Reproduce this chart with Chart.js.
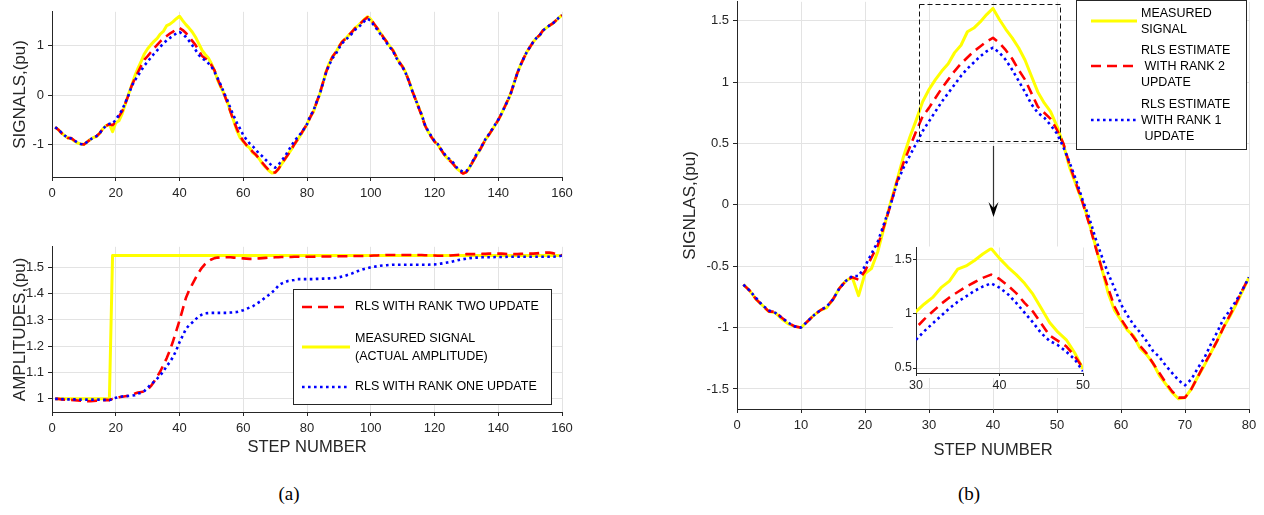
<!DOCTYPE html>
<html><head><meta charset="utf-8">
<script src="https://cdn.jsdelivr.net/npm/chart.js@4.4.1/dist/chart.umd.min.js"></script>
<style>
html,body{margin:0;padding:0;background:#fff;}
body{width:1264px;height:515px;position:relative;overflow:hidden;}
canvas{position:absolute;}
.cap{position:absolute;font-family:"Liberation Serif","Times New Roman",serif;font-size:19px;color:#000;transform:translate(-50%,-50%);white-space:nowrap;}
</style></head><body>
<canvas id="cA" width="585" height="207" style="left:0px;top:0px"></canvas>
<canvas id="cB" width="585" height="222" style="left:0px;top:235px"></canvas>
<canvas id="cC" width="584" height="470" style="left:680px;top:-10px"></canvas>
<canvas id="cD" width="201" height="154" style="left:892px;top:239px"></canvas>
<div class="cap" style="left:289px;top:494px">(a)</div>
<div class="cap" style="left:969px;top:494px">(b)</div>
<script>
// ---------------- DATA ----------------
const steps = Array.from({length:160}, (_, i) => i + 1);

const sigMeasured = [
 -0.65,-0.70,-0.77,-0.82,-0.87,-0.88,-0.93,-0.97,-0.99,-1.00,
 -0.95,-0.90,-0.86,-0.84,-0.77,-0.68,-0.62,-0.59,-0.74,-0.56,
 -0.52,-0.38,-0.18,0.02,0.20,0.39,0.55,0.69,0.84,0.94,
 1.02,1.09,1.15,1.24,1.30,1.41,1.44,1.49,1.55,1.60,
 1.51,1.43,1.36,1.28,1.18,1.05,0.92,0.83,0.76,0.64,
 0.49,0.30,0.16,0.02,-0.14,-0.33,-0.52,-0.72,-0.86,-0.94,
 -1.02,-1.07,-1.17,-1.22,-1.29,-1.39,-1.46,-1.53,-1.58,-1.57,
 -1.50,-1.40,-1.31,-1.21,-1.11,-1.00,-0.91,-0.81,-0.70,-0.59,
 -0.44,-0.34,-0.15,0.02,0.25,0.48,0.65,0.78,0.86,0.98,
 1.08,1.14,1.21,1.27,1.36,1.41,1.47,1.54,1.59,1.54,
 1.44,1.36,1.27,1.17,1.08,0.99,0.91,0.78,0.66,0.58,
 0.45,0.28,0.09,-0.08,-0.24,-0.41,-0.61,-0.74,-0.84,-0.94,
 -1.00,-1.10,-1.20,-1.28,-1.33,-1.40,-1.49,-1.54,-1.58,-1.56,
 -1.47,-1.35,-1.23,-1.14,-1.02,-0.90,-0.81,-0.71,-0.61,-0.51,
 -0.38,-0.24,-0.11,0.05,0.25,0.45,0.61,0.75,0.88,0.98,
 1.08,1.16,1.21,1.31,1.36,1.41,1.45,1.50,1.57,1.62];

const sigRank2 = [
 -0.65,-0.70,-0.77,-0.82,-0.87,-0.87,-0.92,-0.96,-0.99,-1.00,
 -0.95,-0.90,-0.86,-0.83,-0.77,-0.68,-0.62,-0.59,-0.61,-0.54,
 -0.43,-0.33,-0.17,0.00,0.19,0.34,0.47,0.60,0.72,0.79,
 0.87,0.95,1.02,1.09,1.15,1.20,1.25,1.29,1.33,1.36,
 1.32,1.26,1.19,1.10,1.02,0.91,0.80,0.75,0.70,0.61,
 0.50,0.32,0.17,0.02,-0.15,-0.34,-0.52,-0.68,-0.83,-0.93,
 -1.01,-1.08,-1.15,-1.21,-1.29,-1.37,-1.45,-1.52,-1.57,-1.57,
 -1.50,-1.40,-1.30,-1.21,-1.11,-1.00,-0.90,-0.80,-0.69,-0.59,
 -0.45,-0.33,-0.15,0.03,0.25,0.47,0.64,0.78,0.87,0.98,
 1.08,1.14,1.21,1.28,1.35,1.41,1.47,1.53,1.58,1.54,
 1.45,1.36,1.27,1.17,1.08,0.99,0.90,0.78,0.67,0.57,
 0.45,0.28,0.09,-0.08,-0.25,-0.42,-0.61,-0.74,-0.85,-0.94,
 -1.01,-1.10,-1.20,-1.28,-1.34,-1.41,-1.49,-1.55,-1.59,-1.56,
 -1.47,-1.35,-1.24,-1.14,-1.02,-0.90,-0.81,-0.71,-0.61,-0.50,
 -0.38,-0.24,-0.10,0.05,0.25,0.45,0.61,0.75,0.88,0.98,
 1.08,1.16,1.22,1.31,1.36,1.41,1.45,1.51,1.57,1.62];

const sigRank1 = [
 -0.65,-0.70,-0.76,-0.82,-0.86,-0.88,-0.92,-0.96,-0.99,-1.00,
 -0.95,-0.90,-0.86,-0.83,-0.77,-0.68,-0.62,-0.58,-0.58,-0.50,
 -0.40,-0.30,-0.15,0.00,0.18,0.30,0.40,0.50,0.60,0.68,
 0.76,0.84,0.91,0.98,1.05,1.11,1.16,1.21,1.25,1.28,
 1.24,1.18,1.10,1.01,0.92,0.82,0.75,0.71,0.65,0.58,
 0.47,0.34,0.20,0.04,-0.10,-0.27,-0.42,-0.56,-0.68,-0.81,
 -0.90,-0.98,-1.04,-1.11,-1.19,-1.24,-1.31,-1.37,-1.43,-1.47,
 -1.42,-1.33,-1.25,-1.14,-1.04,-0.93,-0.86,-0.78,-0.69,-0.59,
 -0.42,-0.32,-0.14,0.02,0.24,0.46,0.62,0.75,0.83,0.95,
 1.05,1.11,1.18,1.24,1.32,1.37,1.43,1.50,1.55,1.51,
 1.41,1.33,1.24,1.15,1.06,0.97,0.89,0.76,0.65,0.57,
 0.44,0.28,0.09,-0.08,-0.24,-0.40,-0.60,-0.73,-0.83,-0.93,
 -0.99,-1.09,-1.18,-1.26,-1.31,-1.38,-1.47,-1.52,-1.56,-1.54,
 -1.46,-1.34,-1.22,-1.13,-1.01,-0.89,-0.80,-0.70,-0.60,-0.50,
 -0.38,-0.24,-0.11,0.05,0.25,0.45,0.61,0.75,0.88,0.98,
 1.08,1.16,1.21,1.31,1.36,1.41,1.45,1.50,1.57,1.62];

const ampMeasured = [
 1,1,1,1,1,1,1,1,1,1,
 1,1,1,1,1,1,1,1,1.545,1.545,
 1.545,1.545,1.545,1.545,1.545,1.545,1.545,1.545,1.545,1.545,
 1.545,1.545,1.545,1.545,1.545,1.545,1.545,1.545,1.545,1.545,
 1.545,1.545,1.545,1.545,1.545,1.545,1.545,1.545,1.545,1.545,
 1.545,1.545,1.545,1.545,1.545,1.545,1.545,1.545,1.545,1.545,
 1.545,1.545,1.545,1.545,1.545,1.545,1.545,1.545,1.545,1.545,
 1.545,1.545,1.545,1.545,1.545,1.545,1.545,1.545,1.545,1.545,
 1.545,1.545,1.545,1.545,1.545,1.545,1.545,1.545,1.545,1.545,
 1.545,1.545,1.545,1.545,1.545,1.545,1.545,1.545,1.545,1.545,
 1.545,1.545,1.545,1.545,1.545,1.545,1.545,1.545,1.545,1.545,
 1.545,1.545,1.545,1.545,1.545,1.545,1.545,1.545,1.545,1.545,
 1.545,1.545,1.545,1.545,1.545,1.545,1.545,1.545,1.545,1.545,
 1.545,1.545,1.545,1.545,1.545,1.545,1.545,1.545,1.545,1.545,
 1.545,1.545,1.545,1.545,1.545,1.545,1.545,1.545,1.545,1.545,
 1.545,1.545,1.545,1.545,1.545,1.545,1.545,1.545,1.545,1.545];

const ampRank2 = [
 1.000,1.000,0.998,0.997,0.996,0.996,0.995,0.994,0.993,0.992,
 0.991,0.991,0.992,0.993,0.994,0.995,0.996,0.995,1.000,1.003,
 1.006,1.008,1.010,1.012,1.015,1.020,1.024,1.026,1.028,1.035,
 1.048,1.065,1.085,1.105,1.130,1.155,1.185,1.220,1.258,1.298,
 1.340,1.383,1.412,1.435,1.458,1.480,1.498,1.512,1.522,1.530,
 1.535,1.537,1.538,1.538,1.538,1.538,1.537,1.536,1.535,1.534,
 1.533,1.532,1.532,1.533,1.534,1.535,1.536,1.537,1.537,1.538,
 1.538,1.539,1.539,1.539,1.539,1.540,1.540,1.540,1.540,1.540,
 1.540,1.540,1.541,1.541,1.541,1.541,1.541,1.541,1.541,1.542,
 1.542,1.542,1.542,1.543,1.543,1.543,1.543,1.543,1.544,1.544,
 1.545,1.545,1.546,1.546,1.547,1.547,1.547,1.547,1.547,1.547,
 1.547,1.547,1.547,1.547,1.547,1.547,1.546,1.546,1.545,1.545,
 1.544,1.544,1.544,1.544,1.545,1.546,1.547,1.548,1.549,1.550,
 1.550,1.550,1.550,1.550,1.551,1.551,1.552,1.552,1.552,1.552,
 1.552,1.551,1.550,1.550,1.550,1.550,1.551,1.552,1.552,1.552,
 1.552,1.553,1.554,1.555,1.556,1.556,1.554,1.551,1.548,1.546];

const ampRank1 = [
 1.000,1.000,0.999,0.999,0.998,0.998,0.998,0.997,0.997,0.997,
 0.997,0.997,0.997,0.997,0.997,0.996,0.996,0.995,1.000,1.004,
 1.007,1.009,1.010,1.011,1.012,1.014,1.020,1.023,1.030,1.042,
 1.055,1.065,1.077,1.090,1.105,1.125,1.140,1.160,1.185,1.215,
 1.240,1.265,1.280,1.290,1.302,1.313,1.320,1.325,1.326,1.327,
 1.327,1.327,1.327,1.327,1.327,1.328,1.329,1.330,1.333,1.337,
 1.342,1.347,1.352,1.360,1.368,1.376,1.386,1.395,1.405,1.415,
 1.430,1.438,1.443,1.448,1.450,1.452,1.455,1.455,1.455,1.455,
 1.455,1.455,1.456,1.456,1.457,1.457,1.458,1.459,1.460,1.462,
 1.465,1.468,1.472,1.476,1.481,1.486,1.490,1.494,1.497,1.500,
 1.502,1.504,1.506,1.507,1.508,1.509,1.510,1.510,1.510,1.510,
 1.510,1.510,1.510,1.510,1.510,1.510,1.510,1.510,1.511,1.511,
 1.512,1.514,1.516,1.518,1.520,1.523,1.526,1.529,1.531,1.533,
 1.535,1.536,1.537,1.537,1.538,1.538,1.538,1.538,1.539,1.539,
 1.539,1.539,1.540,1.540,1.540,1.540,1.540,1.540,1.540,1.540,
 1.540,1.540,1.540,1.540,1.540,1.540,1.540,1.541,1.542,1.545];

// tick labels
const xTicks160 = [0,20,40,60,80,100,120,140,160];
const xTicks80 = [0,10,20,30,40,50,60,70,80];
const yTicksSignal = [-1,0,1];
const yTicksAmp = [1,1.1,1.2,1.3,1.4,1.5];
const yTicksZoomOut = [-1.5,-1,-0.5,0,0.5,1,1.5];
const xTicksInset = [30,40,50];
const yTicksInset = [0.5,1,1.5];
const insetLag = 1; // inset in the reference is drawn one step earlier

// ---------------- STYLES ----------------
const FONT = '"Liberation Sans", Arial, Helvetica, sans-serif';
const INK = '#262626';
const GRID = '#e3e3e3';
const sMeas = {borderColor:'#ffff00', borderWidth:3, borderDash:[], order:3};
const sR2 = {borderColor:'#ff0000', borderWidth:2.6, borderDash:[10,6], order:2};
const sR1 = {borderColor:'#0000ff', borderWidth:2.6, borderDash:[2.6,3.4], order:1};

Chart.defaults.font.family = FONT;
Chart.defaults.color = INK;
Chart.defaults.animation = false;

function pts(arr, from, to, shift) {
  const out = [];
  for (let i = 0; i < arr.length; i++) {
    const s = steps[i];
    if (s >= from && s <= to) out.push({x: s - (shift || 0), y: arr[i]});
  }
  return out;
}
function ds(label, data, st) {
  return Object.assign({label, data, pointRadius:0, tension:0, fill:false, borderCapStyle:'butt', borderJoinStyle:'round'}, st);
}
function axis(kind, min, max, ticks, o) {
  const a = {
    type:'linear', min, max,
    afterBuildTicks: s => { s.ticks = ticks.map(v => ({value:v})); },
    ticks:{autoSkip:false, maxRotation:0, minRotation:0, padding:o.pad, font:{size:o.fs}, color:INK, callback:v => String(v)},
    grid:{color:GRID, lineWidth:1, tickColor:INK, tickLength:o.tl, drawTicks:true},
    border:{display:true, color:INK, width:1}
  };
  if (kind === 'x') a.afterFit = s => { s.height = o.size; };
  else a.afterFit = s => { s.width = o.size; };
  if (o.title) a.title = {display:true, text:o.title, font:{size:o.tfs || 17}, color:INK, padding:o.tpad};
  return a;
}
function drawLegend(chart, offX, offY, L) {
  const ctx = chart.ctx;
  ctx.save();
  ctx.translate(-offX, -offY);
  ctx.fillStyle = '#fff';
  ctx.fillRect(L.x, L.y, L.w, L.h);
  ctx.strokeStyle = INK; ctx.lineWidth = 1; ctx.setLineDash([]);
  ctx.strokeRect(L.x + 0.5, L.y + 0.5, L.w, L.h);
  ctx.font = '12.5px ' + FONT;
  ctx.textBaseline = 'middle'; ctx.textAlign = 'left';
  L.items.forEach(it => {
    ctx.save();
    ctx.strokeStyle = it.st.borderColor; ctx.lineWidth = it.st.borderWidth;
    ctx.setLineDash(it.st.borderDash); ctx.lineCap = 'butt';
    ctx.beginPath(); ctx.moveTo(L.lx0, it.ly); ctx.lineTo(L.lx1, it.ly); ctx.stroke();
    ctx.restore();
    ctx.fillStyle = '#000';
    it.text.forEach(t => ctx.fillText(t[0], L.tx, t[1]));
  });
  ctx.restore();
}

// ---------------- CHART A: signals 0..160 ----------------
new Chart(document.getElementById('cA'), {
  type:'line',
  data:{datasets:[
    ds('MEASURED SIGNAL', pts(sigMeasured,1,160), sMeas),
    ds('RLS WITH RANK TWO UPDATE', pts(sigRank2,1,160), sR2),
    ds('RLS WITH RANK ONE UPDATE', pts(sigRank1,1,160), sR1)]},
  options:{
    responsive:false, animation:false, events:[],
    layout:{padding:{top:7, right:23, left:0, bottom:0}},
    plugins:{legend:{display:false}, tooltip:{enabled:false}},
    scales:{
      x: axis('x', 0, 160, xTicks160, {pad:5, fs:13, tl:4, size:30}),
      y: axis('y', -1.66, 1.69, yTicksSignal, {pad:4, fs:13, tl:4, size:52, title:'SIGNALS,(pu)', tpad:{top:10,bottom:0}})
    }
  }
});

// ---------------- CHART B: amplitudes ----------------
new Chart(document.getElementById('cB'), {
  type:'line',
  data:{datasets:[
    ds('RLS WITH RANK TWO UPDATE', pts(ampRank2,1,160), sR2),
    ds('MEASURED SIGNAL', pts(ampMeasured,1,160), sMeas),
    ds('RLS WITH RANK ONE UPDATE', pts(ampRank1,1,160), sR1)]},
  options:{
    responsive:false, animation:false, events:[],
    layout:{padding:{top:8, right:23, left:0, bottom:0}},
    plugins:{legend:{display:false}, tooltip:{enabled:false}},
    scales:{
      x: axis('x', 0, 160, xTicks160, {pad:5, fs:13, tl:4, size:45, title:'STEP NUMBER', tfs:16.5, tpad:{top:0,bottom:0}}),
      y: axis('y', 0.95, 1.578, yTicksAmp, {pad:4, fs:13, tl:4, size:52, title:'AMPLITUDES,(pu)', tpad:{top:10,bottom:0}})
    }
  },
  plugins:[{id:'legB', afterDraw(chart){
    drawLegend(chart, 0, 235, {x:293, y:289, w:258, h:115, lx0:302, lx1:350, tx:355, items:[
      {st:sR2, ly:307, text:[['RLS WITH RANK TWO UPDATE',307]]},
      {st:sMeas, ly:347, text:[['MEASURED SIGNAL',339],['(ACTUAL AMPLITUDE)',357]]},
      {st:sR1, ly:387, text:[['RLS WITH RANK ONE UPDATE',387]]}
    ]});
  }}]
});

// ---------------- CHART C: zoomed signals 0..80 ----------------
new Chart(document.getElementById('cC'), {
  type:'line',
  data:{datasets:[
    ds('MEASURED SIGNAL', pts(sigMeasured,1,80), sMeas),
    ds('RLS ESTIMATE WITH RANK 2 UPDATE', pts(sigRank2,1,80), sR2),
    ds('RLS ESTIMATE WITH RANK 1 UPDATE', pts(sigRank1,1,80), sR1)]},
  options:{
    responsive:false, animation:false, events:[],
    layout:{padding:{top:10, right:15, left:0, bottom:0}},
    plugins:{legend:{display:false}, tooltip:{enabled:false}},
    scales:{
      x: axis('x', 0, 80, xTicks80, {pad:5, fs:13, tl:4, size:51, title:'STEP NUMBER', tfs:16.5, tpad:{top:0,bottom:0}}),
      y: axis('y', -1.663, 1.654, yTicksZoomOut, {pad:4, fs:13, tl:4, size:57, title:'SIGNLAS,(pu)', tpad:{top:0,bottom:0}})
    }
  },
  plugins:[{id:'annC', afterDraw(chart){
    const ctx = chart.ctx, xs = chart.scales.x, ys = chart.scales.y;
    // dashed zoom rectangle
    const zx0 = 28.4, zx1 = 50.4, zy0 = 0.52, zy1 = 1.64;
    ctx.save();
    ctx.strokeStyle = '#111'; ctx.lineWidth = 1; ctx.setLineDash([5,3]);
    const rx0 = Math.round(xs.getPixelForValue(zx0)) + 0.5, rx1 = Math.round(xs.getPixelForValue(zx1)) + 0.5;
    const ry0 = Math.round(ys.getPixelForValue(zy1)) + 0.5, ry1 = Math.round(ys.getPixelForValue(zy0)) + 0.5;
    ctx.strokeRect(rx0, ry0, rx1 - rx0, ry1 - ry0);
    // arrow
    ctx.setLineDash([]);
    const ax = Math.round(xs.getPixelForValue(40)) + 0.5;
    const ay0 = ys.getPixelForValue(0.48), ay1 = ys.getPixelForValue(-0.10);
    ctx.strokeStyle = '#333'; ctx.lineWidth = 1.2;
    ctx.beginPath(); ctx.moveTo(ax, ay0); ctx.lineTo(ax, ay1 - 8); ctx.stroke();
    ctx.fillStyle = '#000';
    ctx.beginPath();
    ctx.moveTo(ax, ay1); ctx.lineTo(ax - 5, ay1 - 15); ctx.lineTo(ax, ay1 - 9); ctx.lineTo(ax + 5, ay1 - 15);
    ctx.closePath(); ctx.fill();
    ctx.restore();
    drawLegend(chart, 680, -10, {x:1076, y:0, w:170, h:149, lx0:1091, lx1:1137, tx:1141, items:[
      {st:sMeas, ly:21, text:[['MEASURED',14],['SIGNAL',30]]},
      {st:sR2, ly:66, text:[['RLS ESTIMATE',51],[' WITH RANK 2',67],['UPDATE',83]]},
      {st:sR1, ly:120, text:[['RLS ESTIMATE',105],['WITH RANK 1',121],[' UPDATE',137]]}
    ]});
  }}]
});

// ---------------- CHART D: inset 30..50 ----------------
new Chart(document.getElementById('cD'), {
  type:'line',
  data:{datasets:[
    ds('MEASURED SIGNAL', pts(sigMeasured,29,53,insetLag), sMeas),
    ds('RLS ESTIMATE WITH RANK 2 UPDATE', pts(sigRank2,29,53,insetLag), sR2),
    ds('RLS ESTIMATE WITH RANK 1 UPDATE', pts(sigRank1,29,53,insetLag), sR1)]},
  options:{
    responsive:false, animation:false, events:[],
    layout:{padding:{top:8, right:10, left:0, bottom:0}},
    plugins:{legend:{display:false}, tooltip:{enabled:false}},
    scales:{
      x: axis('x', 30, 50, xTicksInset, {pad:2, fs:12.5, tl:3, size:20}),
      y: axis('y', 0.454, 1.61, yTicksInset, {pad:1, fs:12.5, tl:3, size:24})
    }
  },
  plugins:[{id:'bgD', beforeDraw(chart){
    const a = chart.chartArea, ctx = chart.ctx;
    ctx.save(); ctx.fillStyle = '#fff';
    ctx.fillRect(a.left - 23, a.top - 1, a.right - a.left + 25, a.bottom - a.top + 6);
    ctx.restore();
  }}]
});
</script>
</body></html>
